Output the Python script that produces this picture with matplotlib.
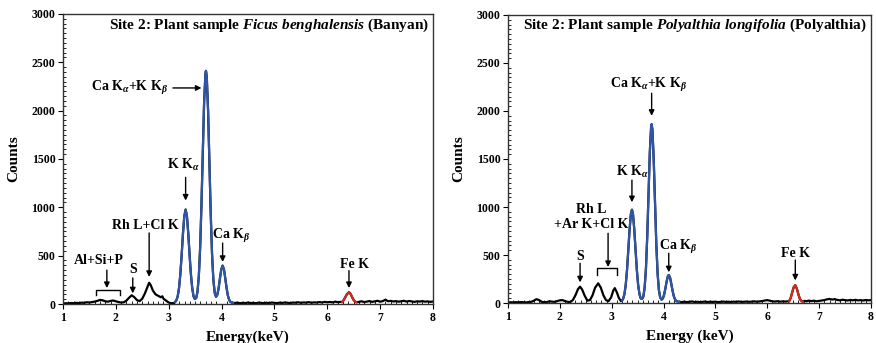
import matplotlib
matplotlib.use("Agg")
import matplotlib.pyplot as plt
import numpy as np

plt.rcParams['font.family'] = ['Liberation Serif', 'DejaVu Serif']
plt.rcParams['font.weight'] = 'bold'
plt.rcParams['mathtext.fontset'] = 'custom'
plt.rcParams['mathtext.rm'] = 'Liberation Serif:bold'
plt.rcParams['mathtext.it'] = 'Liberation Serif:italic:bold'
plt.rcParams['mathtext.bf'] = 'Liberation Serif:bold'

# ---- Site 2, Ficus benghalensis (Banyan) spectrum ----
banyan_energy = [
    1.00, 1.05, 1.10, 1.15, 1.20, 1.25, 1.30, 1.35, 1.40, 1.45, 1.50, 1.55,
    1.60, 1.65, 1.70, 1.75, 1.80, 1.85, 1.90, 1.95, 2.00, 2.05, 2.10, 2.15,
    2.20, 2.25, 2.30, 2.35, 2.40, 2.45, 2.50, 2.55, 2.60, 2.63, 2.66, 2.70,
    2.75, 2.80, 2.85, 2.88, 2.90, 2.95, 3.00, 3.05, 3.10,
    3.12, 3.145, 3.17, 3.195, 3.22, 3.245, 3.27, 3.295, 3.32, 3.345, 3.37,
    3.395, 3.42, 3.445, 3.47, 3.495, 3.52, 3.545, 3.57, 3.595, 3.62, 3.645,
    3.67, 3.695, 3.705, 3.72, 3.745, 3.77, 3.795, 3.82, 3.845, 3.87, 3.895,
    3.92, 3.945, 3.97, 3.995, 4.02, 4.045, 4.07, 4.095, 4.12, 4.145, 4.17,
    4.195, 4.22,
    4.25, 4.30, 4.35, 4.40, 4.45, 4.50, 4.55, 4.60, 4.65, 4.70, 4.75, 4.80,
    4.85, 4.90, 4.95, 5.00, 5.05, 5.10, 5.15, 5.20, 5.25, 5.30, 5.35, 5.40,
    5.45, 5.50, 5.55, 5.60, 5.65, 5.70, 5.75, 5.80, 5.85, 5.90, 5.95, 6.00,
    6.05, 6.10, 6.15, 6.20, 6.25,
    6.28, 6.31, 6.34, 6.37, 6.41, 6.44, 6.47, 6.50, 6.53, 6.55,
    6.60, 6.65, 6.70, 6.75, 6.80, 6.85, 6.90, 6.95, 7.00, 7.05, 7.10, 7.15,
    7.20, 7.25, 7.30, 7.35, 7.40, 7.45, 7.50, 7.55, 7.60, 7.65, 7.70, 7.75,
    7.80, 7.85, 7.90, 7.95, 8.00,
]
banyan_counts = [
    5, 8, 6, 10, 8, 12, 9, 14, 12, 18, 15, 20,
    25, 32, 42, 38, 28, 24, 32, 36, 28, 20, 15, 18,
    35, 65, 90, 70, 40, 30, 55, 110, 180, 220, 195, 140,
    100, 85, 70, 80, 55, 35, 15, 8, 10,
    20, 38, 79, 164, 307, 508, 730, 908, 977, 908, 730,
    508, 307, 164, 79, 51, 62, 128, 290, 585, 1033, 1579,
    2088, 2384, 2412, 2349, 1998, 1468, 932, 514, 250, 117, 75,
    96, 166, 267, 359, 397, 359, 267, 166, 86, 41, 21,
    14, 12,
    10, 14, 8, 12, 9, 15, 10, 12, 8, 14, 11, 9,
    13, 10, 15, 12, 9, 14, 11, 16, 12, 10, 15, 13,
    18, 12, 16, 14, 19, 13, 17, 15, 20, 16, 22, 18,
    21, 17, 24, 19, 22,
    20, 40, 70, 100, 122, 105, 70, 40, 22, 18,
    22, 28, 20, 25, 30, 22, 27, 33, 24, 30, 45, 28,
    32, 26, 30, 24, 29, 33, 25, 31, 27, 22, 28, 25,
    30, 24, 27, 22, 26,
]

# ---- Site 2, Polyalthia longifolia (Polyalthia) spectrum ----
polyalthia_energy = [
    1.00, 1.05, 1.10, 1.15, 1.20, 1.25, 1.30, 1.35, 1.40, 1.45, 1.50, 1.55,
    1.60, 1.65, 1.70, 1.75, 1.80, 1.85, 1.90, 1.95, 2.00, 2.05, 2.10, 2.15,
    2.20, 2.25, 2.30, 2.35, 2.39, 2.43, 2.48, 2.53, 2.58, 2.63, 2.68, 2.74,
    2.79, 2.84, 2.89, 2.94, 2.99, 3.03, 3.06, 3.10, 3.14, 3.18,
    3.20, 3.22, 3.245, 3.27, 3.295, 3.32, 3.345, 3.37, 3.39, 3.41, 3.435,
    3.46, 3.485, 3.51, 3.535, 3.56, 3.585, 3.61, 3.635, 3.66, 3.685, 3.71,
    3.735, 3.76, 3.77, 3.785, 3.81, 3.835, 3.86, 3.885, 3.91, 3.935, 3.96,
    3.985, 4.01, 4.035, 4.06, 4.085, 4.10, 4.125, 4.15, 4.175, 4.20, 4.225,
    4.25, 4.275, 4.30,
    4.35, 4.40, 4.45, 4.50, 4.55, 4.60, 4.65, 4.70, 4.75, 4.80, 4.85, 4.90,
    4.95, 5.00, 5.05, 5.10, 5.15, 5.20, 5.25, 5.30, 5.35, 5.40, 5.45, 5.50,
    5.55, 5.60, 5.65, 5.70, 5.75, 5.80, 5.85, 5.90, 5.95, 6.00, 6.05, 6.10,
    6.15, 6.20, 6.25, 6.30, 6.35, 6.40,
    6.42, 6.45, 6.48, 6.51, 6.54, 6.57, 6.60, 6.63, 6.66, 6.68,
    6.72, 6.76, 6.80, 6.85, 6.90, 6.95, 7.00, 7.05, 7.10, 7.15, 7.20, 7.25,
    7.30, 7.35, 7.40, 7.45, 7.50, 7.55, 7.60, 7.65, 7.70, 7.75, 7.80, 7.85,
    7.90, 7.95, 8.00,
]
polyalthia_counts = [
    5, 8, 6, 9, 7, 10, 8, 6, 10, 12, 25, 40,
    30, 12, 8, 10, 18, 14, 12, 20, 28, 30, 20, 12,
    10, 30, 80, 145, 170, 140, 75, 25, 30, 80, 160, 205,
    160, 80, 30, 20, 60, 130, 155, 110, 50, 20,
    26, 44, 92, 187, 342, 550, 767, 928, 972, 928, 767,
    550, 342, 187, 93, 48, 42, 68, 160, 356, 691, 1135,
    1573, 1836, 1862, 1805, 1494, 1041, 613, 306, 135, 57, 35,
    46, 85, 151, 227, 282, 292, 265, 197, 123, 66, 33,
    19, 14, 12,
    10, 14, 9, 12, 16, 10, 13, 9, 12, 15, 10, 13,
    11, 14, 9, 12, 15, 11, 13, 10, 14, 12, 16, 11,
    13, 15, 12, 14, 17, 13, 16, 20, 26, 30, 24, 18,
    15, 19, 14, 17, 15, 18,
    18, 50, 110, 165, 185, 150, 90, 40, 20, 15,
    22, 18, 25, 20, 24, 18, 22, 26, 30, 38, 42, 36,
    40, 32, 28, 34, 30, 26, 32, 28, 33, 27, 30, 26,
    31, 28, 30,
]

# Energy windows coloured by element group
banyan_blue = (3.12, 4.22)
banyan_red = (6.28, 6.55)
polyalthia_blue = (3.20, 4.30)
polyalthia_red = (6.42, 6.68)

BLUE = '#2f55a8'
RED = '#d42a1e'


def draw_spectrum(ax, energy, counts, blue_win, red_win):
    e = np.asarray(energy, float)
    c = np.asarray(counts, float)
    ax.plot(e, c, color='black', lw=1.6, zorder=2)
    for (lo, hi), col in ((blue_win, BLUE), (red_win, RED)):
        m = (e >= lo - 1e-9) & (e <= hi + 1e-9)
        ax.plot(e[m], c[m], color=col, lw=1.6, zorder=3)


def style_axes(ax, xlabel):
    ax.set_xlim(1, 8)
    ax.set_ylim(0, 3000)
    ax.set_xticks(range(1, 9))
    ax.set_yticks(range(0, 3001, 500))
    ax.set_xticks(np.arange(1, 8.01, 0.1), minor=True)
    ax.set_yticks(np.arange(0, 3001, 50), minor=True)
    ax.tick_params(which='major', direction='out', length=3.5, width=0.8,
                   labelsize=8.5, pad=2, top=False, right=False)
    ax.tick_params(which='minor', direction='in', length=2.5, width=0.6,
                   top=False, right=False)
    for lab in ax.get_xticklabels() + ax.get_yticklabels():
        lab.set_fontweight('bold')
    for sp in ax.spines.values():
        sp.set_linewidth(1.0)
        sp.set_color('#333333')
    ax.set_ylabel('Counts', fontsize=11, fontweight='bold', labelpad=8)
    ax.set_xlabel(xlabel, fontsize=11, fontweight='bold', labelpad=5)


def arrow(ax, x0, y0, x1, y1):
    ax.annotate('', xy=(x1, y1), xytext=(x0, y0),
                arrowprops=dict(arrowstyle='-|>', color='black', lw=1.0,
                                mutation_scale=8, shrinkA=0, shrinkB=0),
                zorder=4)


def bracket(ax, x0, x1, y_top, y_leg):
    ax.plot([x0, x0, x1, x1], [y_leg, y_top, y_top, y_leg],
            color='black', lw=1.0, zorder=4)


LBL = dict(fontsize=10, fontweight='bold', ha='center', va='center')

fig = plt.figure(figsize=(8.76, 3.43), dpi=100)
ax1 = fig.add_axes([0.0719, 0.1137, 0.4224, 0.8455])
ax2 = fig.add_axes([0.5799, 0.1166, 0.4144, 0.8397])

# Left panel
draw_spectrum(ax1, banyan_energy, banyan_counts, banyan_blue, banyan_red)
style_axes(ax1, 'Energy(keV)')
ax1.text(7.92, 2880, r'Site 2: Plant sample $Ficus\ benghalensis$ (Banyan)',
         fontsize=11, fontweight='bold', ha='right', va='center')
ax1.text(2.25, 2235, r'Ca K$_{\alpha}$+K K$_{\beta}$', **LBL)
arrow(ax1, 3.08, 2235, 3.62, 2235)
ax1.text(3.27, 1440, r'K K$_{\alpha}$', **LBL)
arrow(ax1, 3.32, 1310, 3.32, 1070)
ax1.text(2.55, 810, 'Rh L+Cl K', **LBL)
arrow(ax1, 2.63, 735, 2.63, 280)
ax1.text(4.19, 700, r'Ca K$_{\beta}$', **LBL)
arrow(ax1, 4.02, 630, 4.02, 435)
ax1.text(2.32, 360, 'S', **LBL)
arrow(ax1, 2.32, 270, 2.32, 110)
ax1.text(1.68, 445, 'Al+Si+P', **LBL)
arrow(ax1, 1.83, 350, 1.83, 165)
bracket(ax1, 1.62, 2.08, 150, 95)
ax1.text(6.52, 410, 'Fe K', **LBL)
arrow(ax1, 6.41, 345, 6.41, 165)

# Right panel
draw_spectrum(ax2, polyalthia_energy, polyalthia_counts,
              polyalthia_blue, polyalthia_red)
style_axes(ax2, 'Energy (keV)')
ax2.text(7.92, 2895, r'Site 2: Plant sample $Polyalthia\ longifolia$ (Polyalthia)',
         fontsize=11, fontweight='bold', ha='right', va='center')
ax2.text(3.71, 2270, r'Ca K$_{\alpha}$+K K$_{\beta}$', **LBL)
arrow(ax2, 3.77, 2185, 3.77, 1950)
ax2.text(3.39, 1370, r'K K$_{\alpha}$', **LBL)
arrow(ax2, 3.39, 1280, 3.39, 1050)
ax2.text(2.60, 976, 'Rh L', **LBL)
ax2.text(2.60, 813, '+Ar K+Cl K', **LBL)
arrow(ax2, 2.93, 726, 2.93, 375)
bracket(ax2, 2.72, 3.10, 361, 292)
ax2.text(2.39, 482, 'S', **LBL)
arrow(ax2, 2.39, 414, 2.39, 215)
ax2.text(4.28, 587, r'Ca K$_{\beta}$', **LBL)
arrow(ax2, 4.10, 518, 4.10, 320)
ax2.text(6.54, 518, 'Fe K', **LBL)
arrow(ax2, 6.54, 448, 6.54, 235)

fig.savefig('out.png', dpi=100)
